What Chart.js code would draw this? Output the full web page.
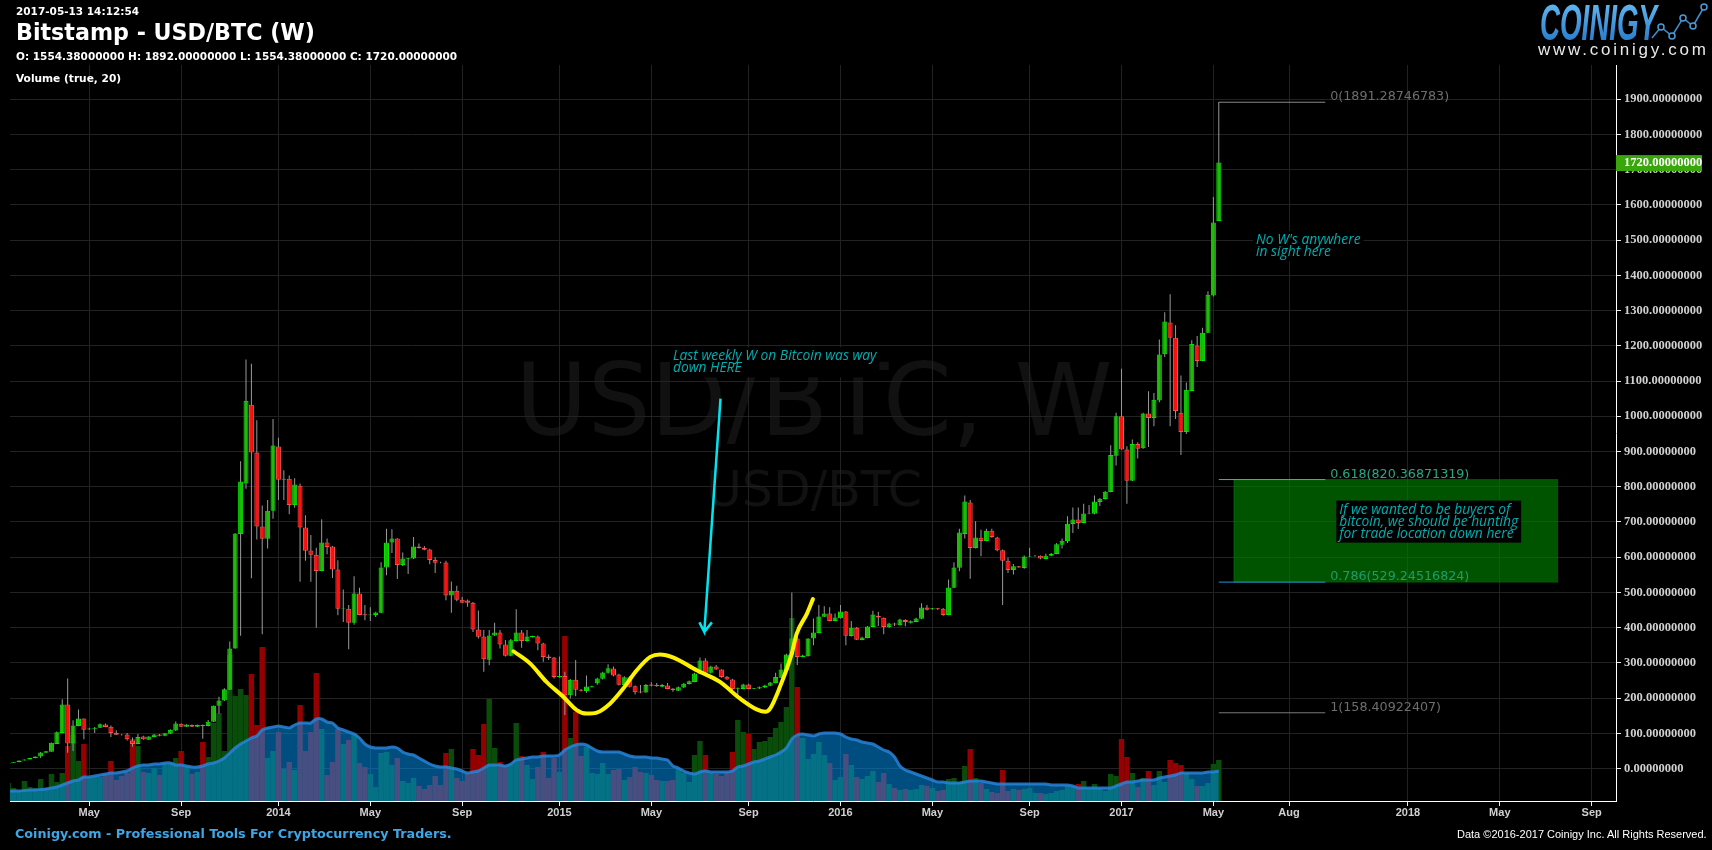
<!DOCTYPE html>
<html>
<head>
<meta charset="utf-8">
<title>Bitstamp - USD/BTC (W)</title>
<script src="https://cdn.jsdelivr.net/npm/chart.js@4/dist/chart.umd.min.js"></script>
<style>
  html, body { margin: 0; padding: 0; background: #000; overflow: hidden; }
  #wrap { position: relative; width: 1712px; height: 850px; background: #000; }
  #wrap canvas { position: absolute; left: 0; top: 0; }
  .txt { position: absolute; white-space: nowrap; color: #fff; font-family: "DejaVu Sans", sans-serif; font-weight: bold; }
  #logo { position: absolute; left: 1530px; top: 0; }
</style>
</head>
<body>
<div id="wrap">
  <canvas id="chart" width="1712" height="850"></canvas>
  <div class="txt" style="left:16px;top:4px;font-size:10.5px;line-height:15px;">2017-05-13 14:12:54</div>
  <div class="txt" style="left:16px;top:19px;font-size:22.2px;line-height:26px;">Bitstamp - USD/BTC (W)</div>
  <div class="txt" style="left:16px;top:49px;font-size:10.5px;line-height:15px;">O: 1554.38000000 H: 1892.00000000 L: 1554.38000000 C: 1720.00000000</div>
  <div class="txt" style="left:16px;top:71px;font-size:10.6px;line-height:15px;">Volume (true, 20)</div>
  <div class="txt" style="left:15px;top:826px;font-size:12.75px;line-height:16px;color:#3fa6e6;">Coinigy.com - Professional Tools For Cryptocurrency Traders.</div>
  <div class="txt" style="left:1457px;top:826px;font-family:'Liberation Sans';font-size:11px;line-height:16px;font-weight:normal;">Data &copy;2016-2017 Coinigy Inc. All Rights Reserved.</div>
  <svg id="logo" width="182" height="62" viewBox="1530 0 182 62">
    <defs>
      <linearGradient id="logoFill" x1="0" y1="0" x2="0" y2="1">
        <stop offset="0" stop-color="#6cc2f7"/>
        <stop offset="1" stop-color="#1b6fc4"/>
      </linearGradient>
    </defs>
    <text x="1540" y="40" textLength="117" lengthAdjust="spacingAndGlyphs" font-family="Liberation Sans" font-weight="bold" font-style="italic" font-size="50" fill="url(#logoFill)">COINIGY</text>
    <polyline points="1652,38 1661,27 1672,36 1683,18 1693,26 1704,7" fill="none" stroke="#3d8fd0" stroke-width="1.5"/>
    <g fill="#000" stroke="#4a9ad8" stroke-width="1.5">
      <circle cx="1661" cy="27" r="3"/><circle cx="1672" cy="36" r="3"/><circle cx="1683" cy="18" r="3"/><circle cx="1693" cy="26" r="3"/><circle cx="1704" cy="7" r="3"/>
    </g>
    <text x="1538" y="55" textLength="168" font-family="Liberation Sans" font-size="17" fill="#e8e8e8">www.coinigy.com</text>
  </svg>
</div>
<script>
// Weekly candles, first one sits at week -1 and gets clipped by the plot edge
const firstWeek = -1;
const opens = [14,16,18,23,26,29,34,45,48,70,101,182,71,121,142,111,113,116,125,119,
  102,97,97,80,70,91,82,90,97,93,99,108,127,119,124,119,124,121,133,178,
  193,224,341,666,809,1033,897,687,652,732,914,820,823,748,803,684,619,607,561,642,
  630,565,454,454,414,497,438,435,436,442,571,642,653,578,595,596,630,627,622,592,
  585,585,491,505,479,477,471,395,375,309,378,386,352,320,362,386,362,373,375,355,
  318,315,260,263,208,252,224,220,231,242,255,272,284,267,237,259,234,219,216,239,
  237,232,236,227,221,230,240,246,269,307,272,290,281,261,253,226,226,239,226,227,
  230,235,243,258,280,322,369,317,319,369,385,431,440,419,427,446,376,400,365,371,
  402,434,428,401,412,407,422,414,416,425,457,452,455,454,436,513,570,666,755,626,
  655,646,675,656,620,590,564,574,569,601,603,604,595,604,609,635,646,694,707,697,
  723,723,757,765,785,888,1000,906,817,921,909,1008,995,1045,1176,1266,1223,1010,955,1072,
  1201,1157,1237,1343,1554];
const closes = [16,18,23,26,30,34,46,49,73,103,182,71,122,142,110,114,116,126,118,101,
  96,96,83,70,90,83,91,97,93,100,110,128,119,125,119,124,121,133,178,193,
  225,341,667,815,1044,897,687,652,732,917,820,823,748,806,684,618,607,561,642,629,
  565,454,455,414,497,436,435,437,443,571,642,653,578,596,597,630,626,621,592,584,
  584,491,505,479,471,471,395,374,310,378,386,352,320,364,386,362,375,376,355,317,
  314,260,263,208,252,224,221,233,234,256,273,285,264,238,259,232,217,216,237,235,
  234,237,226,222,231,241,248,270,307,272,290,281,260,253,226,228,239,226,228,231,
  236,244,260,281,324,369,317,321,369,386,432,440,419,429,446,377,400,366,372,403,
  437,429,402,412,409,423,416,418,426,457,451,455,453,436,514,571,670,758,626,656,
  646,675,657,620,590,564,574,571,602,603,604,596,604,610,637,647,695,707,697,724,
  725,758,766,786,890,1000,906,817,921,908,1008,995,1047,1175,1269,1223,1015,955,1075,1205,
  1157,1237,1345,1550,1720];
const highs = [16,18,23,26,30,34,47,50,74,105,197,256,137,168,142,116,118,128,128,122,
  109,98,101,88,98,93,92,98,98,101,112,134,128,126,125,125,125,138,179,204,
  228,361,668,872,1161,1149,989,747,762,992,939,847,832,824,809,719,663,627,708,653,
  632,591,508,464,546,513,464,458,445,586,681,679,654,613,598,657,639,632,624,600,
  587,590,531,519,487,480,473,449,393,393,414,393,365,368,452,393,393,377,378,357,
  324,317,318,275,254,308,226,264,235,258,275,296,290,269,262,263,236,237,240,245,
  243,240,243,228,233,243,250,272,315,313,292,294,282,263,255,230,241,241,229,233,
  238,246,272,298,326,500,378,323,370,426,464,461,458,440,464,447,419,402,374,405,
  448,445,429,414,414,425,424,420,428,469,464,456,456,456,537,586,681,775,762,702,
  678,681,681,658,622,599,581,575,605,627,606,605,610,612,640,653,716,741,741,752,
  748,775,768,788,918,1010,1135,915,934,926,1010,1071,1066,1218,1295,1346,1258,1116,1096,1216,
  1228,1251,1355,1622,1892];
const lows = [14,16,18,23,26,29,30,45,48,70,100,45,50,120,83,110,101,115,117,90,
  95,94,80,62,69,82,81,89,92,92,98,107,118,118,118,118,85,120,132,156,
  192,223,340,377,794,540,650,381,625,709,762,762,722,740,530,590,530,400,560,608,
  541,435,416,339,408,435,421,419,430,441,549,612,538,575,552,595,625,620,580,555,
  583,478,442,475,470,459,388,369,275,293,376,341,318,319,361,343,360,372,336,303,
  308,256,258,152,199,205,219,215,230,238,253,270,262,236,236,230,210,214,215,233,
  232,231,225,218,220,229,239,245,268,271,270,280,258,252,212,199,225,225,225,226,
  229,234,242,257,279,315,294,316,318,350,384,430,418,418,426,350,375,365,364,370,
  401,405,381,400,405,406,404,412,415,424,449,451,450,434,435,512,560,653,539,625,
  603,645,655,617,464,555,551,570,567,600,602,594,594,603,608,625,640,669,680,696,
  722,722,745,764,784,860,905,752,816,880,908,913,972,1040,1168,972,992,890,950,1071,
  1140,1156,1236,1340,1554];
const volumes = [18,13,11,20,14,13,22,13,27,19,28,55,66,40,57,23,24,24,27,40,
  21,25,28,62,55,29,28,33,26,37,38,43,50,35,27,29,59,44,78,88,
  50,146,105,112,106,127,76,154,43,50,69,32,39,31,96,50,69,128,72,26,
  39,72,57,61,68,38,34,27,14,48,49,36,43,20,18,23,15,12,16,25,
  16,48,52,23,20,27,52,46,77,102,53,39,35,37,78,45,36,22,34,49,
  23,43,29,165,63,89,45,54,28,27,38,27,31,32,21,24,34,29,28,26,
  21,20,20,21,33,28,19,46,60,46,28,27,25,28,49,81,69,67,52,59,
  60,64,73,79,94,183,114,63,42,47,59,46,38,21,24,47,36,24,22,25,
  30,19,28,17,13,11,12,11,12,16,15,13,10,11,22,23,19,35,52,23,
  18,12,9,8,31,10,12,11,12,13,8,8,7,8,10,11,16,15,17,20,
  13,17,13,10,27,25,62,44,28,14,23,30,16,30,19,41,38,36,28,22,
  15,15,18,37,41];
const volumeMa = [10,10,10,10.5,11,11,11.5,12,13,14,16,18,20,21,24,24,25,26,27,28,
  28,29,30,33,35,36,36,37,37,38,38,36,36,35,34,34,35,37,38,40,
  43,48,53,57,60,63,65,71,73,74,75,74,73,76,78,78,78,82,82,79,
  78,73,71,69,67,63,57,54,53,53,53,54,53,49,47,46,43,40,37,35,
  34,34,33,32,30,28,29,30,33,36,36,36,35,37,41,42,43,44,44,45,
  45,45,46,51,54,56,57,56,53,50,49,49,49,49,47,45,44,44,44,43,
  43,42,41,35,33,30,28,27,29,30,29,29,29,29,30,34,35,37,39,40,
  42,44,46,49,53,62,66,67,66,65,67,68,68,68,67,64,62,61,59,58,
  57,54,51,49,44,35,31,29,27,25,23,21,19,19,18,18,18,19,20,20,
  20,19,18,17,17,17,17,17,17,17,17,17,17,16,16,16,16,15,13,13,
  13,13,13,13,13,15,17,19,19,20,21,21,21,23,24,25,26,28,28,28,
  28,28,29,29,30];

// Axis ticks
const priceTicks = [0,100,200,300,400,500,600,700,800,900,1000,1100,1200,1300,1400,1500,1600,1700,1800,1900];
const timeTickWeeks = [14,31,49,66,83,101,118,136,153,170,188,205,222,236,258,275,292];
const timeTickLabels = ['May','Sep','2014','May','Sep','2015','May','Sep','2016','May','Sep','2017','May','Aug','2018','May','Sep'];
const lastClose = 1720;

// Drawings made on the chart
const fibNames = ['0','0.618','0.786','1'];
const fibLevels = [1891.28746783,820.36871319,529.24516824,158.40922407];
const fibLineColors = ['#8a8a8a','#27c77f','#1f93d8','#7a7a7a'];
const fibTextColors = ['#6e6e6e','#2aa884','#1f9c6c','#6e6e6e'];
const fibWeeks = [223,242.7];
const zoneWeeks = [225.8,285.7];
const zoneLevels = [529.25,820.37];
const curveWeeks = [92.5,95.6,98.6,101.7,104.2,106,107.9,110.4,112.8,115.3,117.8,119.6,122.1,126.4,130.7,134.4,137.5,139.1,140,141.8,144,144.9,146.8,147.9];
const curvePrices = [333,298,246,204,166,156,159,185,227,279,317,324,315,279,246,199,168,161,171,232,327,383,440,481];
const arrowWeeks = [130.8,127.8,126.9,127.8,129.2];
const arrowPrices = [1050,388,415,388,415];
const noteLines = [
  ['Last weekly W on Bitcoin was way','down HERE'],
  ["No W's anywhere",'in sight here'],
  ['If we wanted to be buyers of','bitcoin, we should be hunting','for trade location down here']
];
const noteWeeks = [122,229.9,245.3];
const notePrices = [1170,1500,735];

const weeks = opens.map((v, i) => firstWeek + i);
const isUp = i => closes[i] >= opens[i];

// plugin for everything Chart.js has no element for
const overlay = {
  id: 'overlay',
  beforeDraw(chart) {
    const ctx = chart.ctx;
    const area = chart.chartArea;
    ctx.save();
    ctx.fillStyle = '#111';
    ctx.textAlign = 'center';
    ctx.textBaseline = 'alphabetic';
    ctx.font = '99px "DejaVu Sans"';
    ctx.fillText('USD/BTC, W', (area.left + area.right) / 2 + 1, 435);
    ctx.font = '49px "DejaVu Sans"';
    ctx.fillText('USD/BTC', (area.left + area.right) / 2 + 1, 506);
    ctx.restore();
  },
  beforeDatasetsDraw(chart) {
    const ctx = chart.ctx;
    const x = chart.scales.x;
    const y = chart.scales.y;
    const left = x.getPixelForValue(zoneWeeks[0]);
    const right = x.getPixelForValue(zoneWeeks[1]);
    const top = y.getPixelForValue(zoneLevels[1]);
    const bottom = y.getPixelForValue(zoneLevels[0]);
    ctx.save();
    ctx.fillStyle = 'rgba(0,128,0,0.66)';
    ctx.strokeStyle = 'rgba(0,128,0,0.5)';
    ctx.fillRect(left, top, right - left, bottom - top);
    ctx.strokeRect(left, top, right - left, bottom - top);
    ctx.restore();
  },
  afterDatasetsDraw(chart) {
    const ctx = chart.ctx;
    const x = chart.scales.x;
    const y = chart.scales.y;
    ctx.save();
    // fib labels
    ctx.font = '12.7px "DejaVu Sans"';
    ctx.textBaseline = 'alphabetic';
    fibLevels.forEach(function(level, i) {
      ctx.fillStyle = fibTextColors[i];
      ctx.fillText(fibNames[i] + '(' + level.toFixed(8) + ')', x.getPixelForValue(fibWeeks[1]) + 5, y.getPixelForValue(level) - 2);
    });
    // notes, black box behind the text
    ctx.font = 'italic 13.8px "Open Sans"';
    ctx.textBaseline = 'middle';
    noteLines.forEach(function(lines, n) {
      const px = x.getPixelForValue(noteWeeks[n]);
      const py = y.getPixelForValue(notePrices[n]);
      let w = 0;
      lines.forEach(function(l) { w = Math.max(w, ctx.measureText(l).width); });
      ctx.fillStyle = '#000';
      ctx.fillRect(px - 3, py - 9, w + 6, lines.length * 12 + 6);
      ctx.fillStyle = '#00adb0';
      lines.forEach(function(l, k) { ctx.fillText(l, px, py + k * 12); });
    });
    ctx.restore();
  },
  afterDraw(chart) {
    const ctx = chart.ctx;
    const py = chart.scales.y.getPixelForValue(lastClose);
    ctx.save();
    ctx.fillStyle = '#39a60b';
    ctx.fillRect(chart.chartArea.right, py - 7.5, 86, 16);
    ctx.fillStyle = '#fff';
    ctx.font = 'bold 12.5px "Liberation Sans Narrow"';
    ctx.textBaseline = 'middle';
    ctx.fillText(lastClose.toFixed(8), chart.chartArea.right + 8, py + 0.5);
    ctx.restore();
  }
};

const lineData = (xs, ys) => xs.map((v, i) => ({x: v, y: ys[i]}));

new Chart(document.getElementById('chart'), {
  data: {
    datasets: [
      {
        type: 'bar', yAxisID: 'vol', order: 9, grouped: false, barThickness: 5.404, inflateAmount: 0,
        data: volumes.map((v, i) => ({x: weeks[i], y: v})),
        backgroundColor: volumes.map((v, i) => isUp(i) ? '#0a4c0a' : '#970000'),
        borderWidth: 0
      },
      {
        type: 'line', yAxisID: 'vol', order: 8, data: lineData(weeks, volumeMa),
        borderColor: 'rgba(40,130,215,0.85)', borderWidth: 3, pointRadius: 0, tension: 0.2,
        fill: 'start', backgroundColor: 'rgba(0,150,245,0.52)'
      },
      {
        type: 'bar', order: 7, grouped: false, barThickness: 1, inflateAmount: 0,
        data: weeks.map((w, i) => ({x: w, y: [lows[i], highs[i]]})),
        backgroundColor: '#9a9a9a', borderWidth: 0
      },
      {
        type: 'bar', order: 6, grouped: false, barThickness: 5, inflateAmount: 0,
        data: weeks.map((w, i) => ({x: w, y: [opens[i], closes[i]]})),
        backgroundColor: weeks.map((w, i) => isUp(i) ? '#24b80f' : '#ff0f0f'),
        borderColor: weeks.map((w, i) => isUp(i) ? '#00e800' : '#ff5050'),
        borderWidth: 1, borderSkipped: false
      },
      {
        type: 'line', order: 3, data: lineData(curveWeeks, curvePrices),
        borderColor: '#fff200', borderWidth: 4, pointRadius: 0, cubicInterpolationMode: 'monotone', borderCapStyle: 'round'
      },
      {
        type: 'line', order: 2, data: lineData(arrowWeeks, arrowPrices),
        borderColor: '#00e6f0', borderWidth: 2.5, pointRadius: 0
      },
      ...fibLevels.map((level, i) => ({
        type: 'line', order: 1, data: lineData(fibWeeks, [level, level]),
        borderColor: fibLineColors[i], borderWidth: 1, pointRadius: 0
      }))
    ]
  },
  plugins: [overlay],
  options: {
    responsive: false,
    animation: false,
    events: [],
    layout: { padding: { left: 10, top: 65, right: 0, bottom: 0 } },
    plugins: { legend: { display: false }, tooltip: { enabled: false } },
    scales: {
      x: {
        type: 'linear',
        offset: false,
        min: -0.67,
        max: 296.5,
        afterBuildTicks: function(scale) { scale.ticks = timeTickWeeks.map(v => ({value: v})); },
        afterFit: function(scale) { scale.height = 49; },
        grid: { offset: false, color: '#222', tickColor: '#eee', tickLength: 5 },
        border: { color: '#fff', width: 1 },
        ticks: {
          color: '#d0d0d0',
          font: { family: 'Liberation Sans', weight: 'bold', size: 11 },
          autoSkip: false, maxRotation: 0, padding: 0,
          callback: function(value) { return timeTickLabels[timeTickWeeks.indexOf(value)]; }
        }
      },
      y: {
        type: 'linear',
        position: 'right',
        min: -92,
        max: 1997,
        afterBuildTicks: function(scale) { scale.ticks = priceTicks.map(v => ({value: v})); },
        afterFit: function(scale) { scale.width = 96; },
        grid: { color: '#222', tickColor: '#eee', tickLength: 5 },
        border: { color: '#fff', width: 1 },
        ticks: {
          color: '#d0d0d0',
          font: { family: 'Liberation Sans Narrow', weight: 'bold', size: 12.5 },
          padding: 3,
          callback: function(value) { return value.toFixed(8); }
        }
      },
      vol: { type: 'linear', display: false, min: 0, max: 736 }
    }
  }
});
</script>
</body>
</html>
